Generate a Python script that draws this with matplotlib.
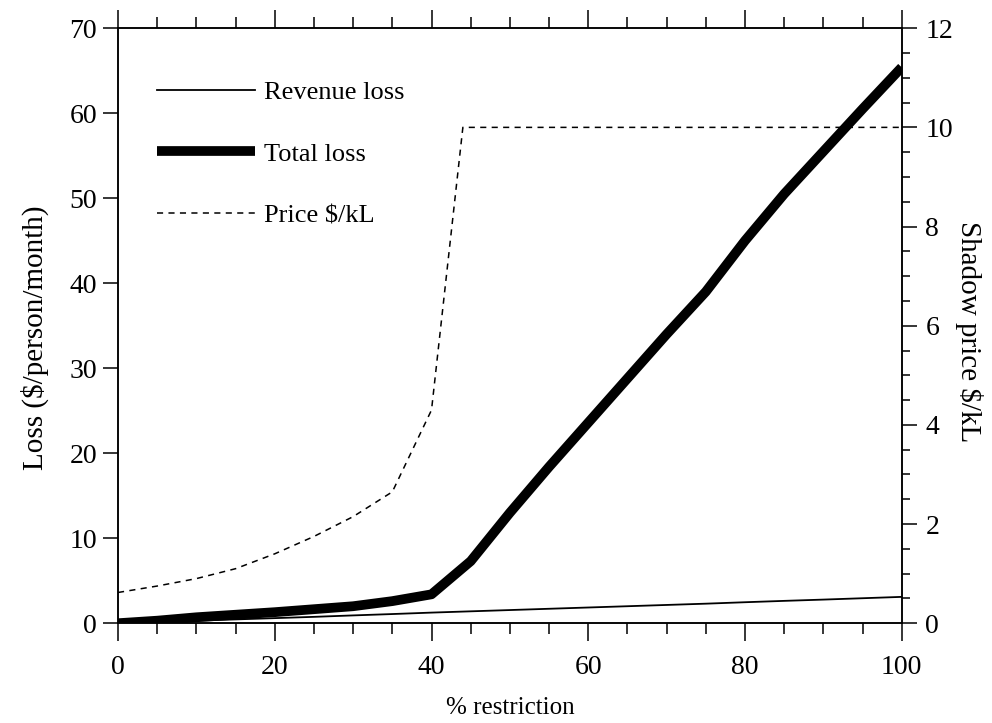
import matplotlib
matplotlib.use("Agg")
import matplotlib.pyplot as plt
from matplotlib.ticker import MultipleLocator

plt.rcParams['font.family'] = ['Liberation Serif', 'DejaVu Serif']

# % restriction for the loss curves
restriction = [0, 5, 10, 15, 20, 25, 30, 35, 40, 45, 50, 55, 60, 65, 70, 75, 80, 85, 90, 95, 100]
revenue_loss = [0, 0.15, 0.3, 0.45, 0.6, 0.75, 0.92, 1.08, 1.25, 1.4, 1.55, 1.7, 1.85, 2.0, 2.15, 2.3, 2.47, 2.63, 2.78, 2.94, 3.1]
total_loss = [0, 0.3, 0.7, 1.0, 1.3, 1.65, 2.0, 2.6, 3.4, 7.3, 13.0, 18.4, 23.6, 28.8, 34.0, 39.0, 45.0, 50.5, 55.5, 60.5, 65.4]

# shadow price (right axis)
price_x = [0, 5, 10, 15, 20, 25, 30, 35, 40, 44, 50, 60, 70, 80, 90, 100]
price = [0.62, 0.75, 0.9, 1.1, 1.4, 1.75, 2.15, 2.65, 4.3, 10.0, 10.0, 10.0, 10.0, 10.0, 10.0, 10.0]

fig = plt.figure(figsize=(9.92, 7.23), dpi=100)
ax = fig.add_axes([0.119, 0.138, 0.790, 0.823])
ax2 = ax.twinx()

l1, = ax.plot(restriction, revenue_loss, color='black', lw=1.3, label='Revenue loss')
l2, = ax.plot(restriction, total_loss, color='black', lw=7, solid_capstyle='butt',
              solid_joinstyle='round', label='Total loss')
l3, = ax2.plot(price_x, price, color='black', lw=1.1, dashes=(4, 3.5), label='Price $/kL')

ax.set_xlim(0, 100)
ax.set_ylim(0, 70)
ax2.set_ylim(0, 12)

ax.xaxis.set_major_locator(MultipleLocator(20))
ax.xaxis.set_minor_locator(MultipleLocator(5))
ax.yaxis.set_major_locator(MultipleLocator(10))
ax2.yaxis.set_major_locator(MultipleLocator(2))
ax2.yaxis.set_minor_locator(MultipleLocator(0.5))

for a in (ax, ax2):
    for s in a.spines.values():
        s.set_linewidth(1.1)

ax.tick_params(axis='x', which='both', direction='out', top=True, width=1.1, labelsize=20, pad=10)
ax.tick_params(axis='x', which='major', length=13)
ax.tick_params(axis='x', which='minor', length=8)
ax.tick_params(axis='y', which='major', direction='out', length=11, width=1.1, labelsize=20, pad=4)
ax2.tick_params(axis='y', which='major', direction='out', length=11, width=1.1, labelsize=20, pad=6)
ax2.tick_params(axis='y', which='minor', direction='out', length=6, width=1.1)

ax.set_xlabel('% restriction', fontsize=18, labelpad=12)
ax.set_ylabel('Loss ($/person/month)', fontsize=21)
ax.yaxis.set_label_coords(-0.088, 0.48)
ax2.set_ylabel('Shadow price $/kL', fontsize=21, rotation=270, va='center')
ax2.yaxis.set_label_coords(1.086, 0.49)

leg = ax.legend(handles=[l1, l2, l3], loc='upper left', bbox_to_anchor=(0.02, 0.952),
                frameon=False, fontsize=19, handlelength=3.7, handletextpad=0.35,
                labelspacing=1.45)

fig.savefig('out.png', dpi=100)
